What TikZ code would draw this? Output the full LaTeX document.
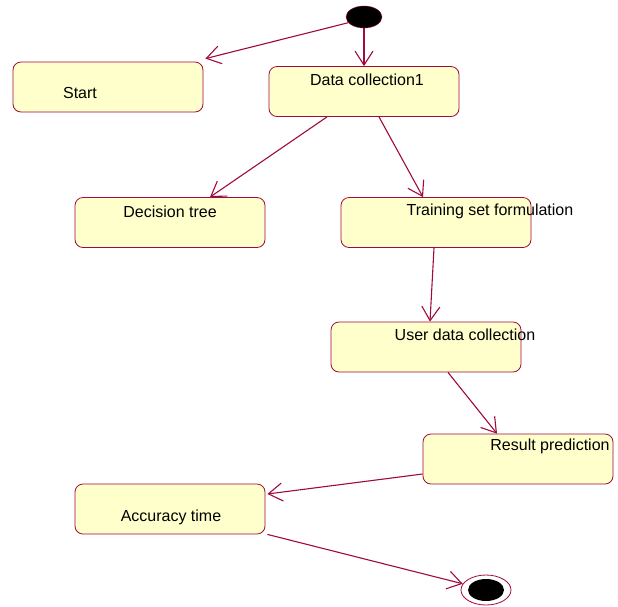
\documentclass[tikz,border=0pt]{standalone}
\usepackage{fontspec}
\setmainfont{Liberation Sans}
\usetikzlibrary{calc}
\usetikzlibrary{arrows.meta}
\usetikzlibrary{shapes.geometric}
\definecolor{umlred}{RGB}{160,10,60}
\definecolor{umlfill}{RGB}{255,255,204}

\begin{document}
\begin{tikzpicture}[x=1pt, y=-1pt,
  state/.style={draw=umlred, line width=0.8pt, fill=umlfill, rounded corners=8pt, minimum width=190pt, minimum height=50pt, inner sep=0},
  lbl/.style={font=\fontsize{16}{19}\selectfont, inner sep=0},
  flow/.style={umlred, line width=1.1pt, -{Straight Barb[length=14pt, width=18pt]}}]
\useasboundingbox (0,0) rectangle (618,606);
\foreach \n/\x/\y in {start/108/87, dc/364/91.5, dt/170/222.5, tsf/436/222.5, udc/426/347, rp/518/459, at/170/509}
  \node[state] (\n) at (\x,\y) {};
\node[lbl] (tstart) at (80,92.5) {Start};
\node[lbl] (tdc) at (367,79.5) {Data collection1};
\node[lbl] (tdt) at (170,211.5) {Decision tree};
\node[lbl] (ttsf) at (490,211.5) {Training set formulation};
\node[lbl] (tudc) at (465,334.5) {User data collection};
\node[lbl] (trp) at (550,446.5) {Result prediction};
\node[lbl] (tat) at (171,517.5) {Accuracy time};
% initial and final states
\node[ellipse, draw=umlred, fill=black, minimum width=36pt, minimum height=22pt, inner sep=0] (init) at (364,17) {};
\node[ellipse, draw=umlred, line width=0.8pt, fill=white, minimum width=50pt, minimum height=30pt, inner sep=0] (fin) at (486,590) {};
\node[ellipse, fill=black, minimum width=36pt, minimum height=22pt, inner sep=0] (fincore) at (486,590) {};
% transitions
\draw[flow] (init.200) -- ($(start.north east)+(2,-3)$);
\draw[flow] (init.south) -- (dc.north);
\draw[flow] ($(dc.south)+(-37,0)$) -- ($(dt.north)+(40,0)$);
\draw[flow] ($(dc.south)+(15,0)$) -- ($(tsf.north)+(-13,0)$);
\draw[flow] ($(tsf.south)+(-2,0)$) -- ($(udc.north)+(4,0)$);
\draw[flow] ($(udc.south)+(22,0)$) -- ($(rp.north)+(-21,0)$);
\draw[flow] ($(rp.west)+(0,15)$) -- ($(at.east)+(2,-15)$);
\draw[flow] ($(at.south east)+(2,0)$) -- (fin.165);
\end{tikzpicture}
\end{document}
